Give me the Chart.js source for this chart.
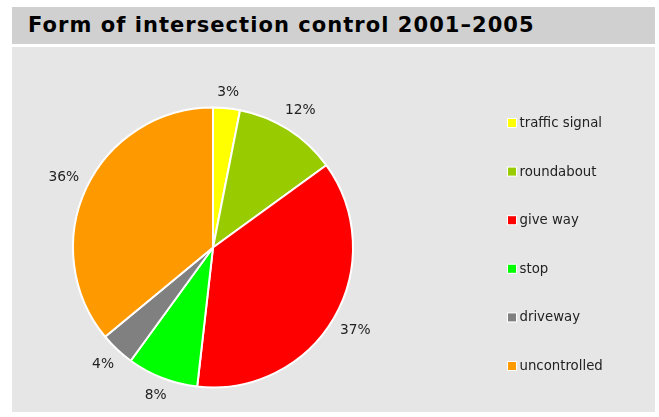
<!DOCTYPE html>
<html>
<head>
<meta charset="utf-8">
<script src="https://cdn.jsdelivr.net/npm/chart.js@4"></script>
<style>
  html, body { margin: 0; padding: 0; background: #ffffff; width: 659px; height: 417px; overflow: hidden; }
  #titlebar { position: absolute; left: 12px; top: 7px; width: 643px; height: 37px; background: #d0d0d0; }
  #titlebar span { position: absolute; left: 16px; top: 6px; font: bold 21px "DejaVu Sans", Verdana, sans-serif; letter-spacing: 1.05px; color: #000; white-space: nowrap; }
  #panel { position: absolute; left: 12px; top: 47px; width: 643px; height: 365px; background: #e6e6e6; }
  canvas { display: block; }
</style>
</head>
<body>
<div id="titlebar"><span>Form of intersection control 2001–2005</span></div>
<div id="panel"><canvas id="c" width="643" height="365"></canvas></div>
<script>
const categories = ["traffic signal", "roundabout", "give way", "stop", "driveway", "uncontrolled"];
const shares = [3.1, 11.9, 36.8, 8.2, 4.0, 36.0];
const sliceColors = ["#ffff00", "#99cc00", "#ff0000", "#00ff00", "#808080", "#ff9900"];

const FONT = '"DejaVu Sans", Verdana, sans-serif';

const outsideLabels = {
  id: 'outsideLabels',
  afterDatasetsDraw(chart) {
    const ctx = chart.ctx;
    const meta = chart.getDatasetMeta(0);
    const data = chart.data.datasets[0].data;
    ctx.save();
    ctx.font = '13.8px ' + FONT;
    ctx.fillStyle = '#222222';
    ctx.textAlign = 'center';
    ctx.textBaseline = 'middle';
    meta.data.forEach((arc, i) => {
      const p = arc.getProps(['x', 'y', 'startAngle', 'endAngle', 'outerRadius'], true);
      const mid = (p.startAngle + p.endAngle) / 2;
      const txt = Math.round(data[i]) + '%';
      const hw = ctx.measureText(txt).width / 2;
      const hh = 7;
      const c = Math.cos(mid), s = Math.sin(mid);
      const r = p.outerRadius + 8 + hw * Math.abs(c) + hh * Math.abs(s);
      ctx.fillText(txt, p.x + c * r, p.y + s * r);
    });
    ctx.restore();
  }
};

const sideLegend = {
  id: 'sideLegend',
  afterDraw(chart) {
    const ctx = chart.ctx;
    const labels = chart.data.labels;
    const colors = chart.data.datasets[0].backgroundColor;
    ctx.save();
    ctx.font = '13.3px ' + FONT;
    ctx.textBaseline = 'middle';
    ctx.textAlign = 'left';
    labels.forEach((lab, i) => {
      const y = 76 + i * 48.6;
      const x = 495;
      ctx.fillStyle = '#ffffff';
      ctx.fillRect(x, y - 5, 10, 10);
      ctx.fillStyle = colors[i];
      ctx.fillRect(x + 1, y - 4, 8, 8);
      ctx.fillStyle = '#222222';
      ctx.fillText(lab, x + 12.5, y + 0.5);
    });
    ctx.restore();
  }
};

new Chart(document.getElementById('c'), {
  type: 'pie',
  data: {
    labels: categories,
    datasets: [{
      data: shares,
      backgroundColor: sliceColors,
      borderColor: '#ffffff',
      borderWidth: 2
    }]
  },
  options: {
    responsive: false,
    animation: false,
    layout: { padding: { left: 60, right: 301, top: 59.5, bottom: 23.5 } },
    plugins: { legend: { display: false }, tooltip: { enabled: false }, title: { display: false } }
  },
  plugins: [outsideLabels, sideLegend]
});
</script>
</body>
</html>
